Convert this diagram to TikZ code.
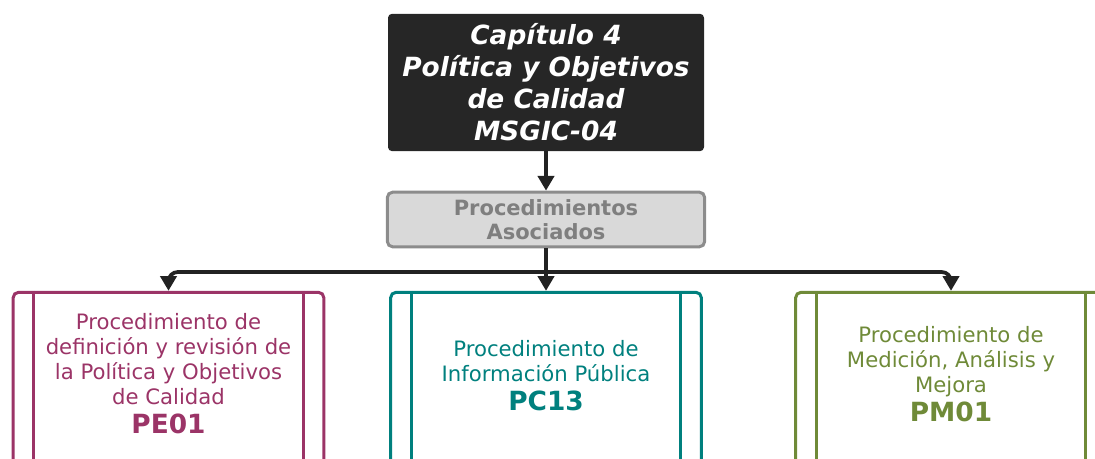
\documentclass[tikz,border=0pt]{standalone}
\usepackage{fontspec}
\setmainfont{DejaVu Sans}
\usetikzlibrary{arrows.meta}
\definecolor{darkbox}{HTML}{262626}
\definecolor{greyfill}{HTML}{D9D9D9}
\definecolor{greyline}{HTML}{8C8C8C}
\definecolor{greytext}{HTML}{7F7F7F}
\definecolor{pemag}{HTML}{9B3467}
\definecolor{pcteal}{HTML}{00807E}
\definecolor{pmolive}{HTML}{6F8A38}
\definecolor{connector}{HTML}{222222}
\newcommand\codefontcmd{\fontsize{19.8pt}{21pt}\selectfont\bfseries}
\tikzset{
  titlebox/.style={draw=none, fill=darkbox, rounded corners=3pt, minimum width=237pt, minimum height=103pt,
    text=white, align=center, font=\fontsize{19.8pt}{24pt}\selectfont\bfseries\itshape, inner sep=0pt},
  assocbox/.style={draw=greyline, line width=2.25pt, fill=greyfill, rounded corners=4pt, minimum width=238pt,
    minimum height=41pt, text=greytext, align=center, font=\fontsize{15.75pt}{18pt}\selectfont\bfseries, inner sep=0pt},
  procbox/.style={draw=#1, line width=2.25pt, rounded corners=4pt, minimum width=233pt, minimum height=130pt, inner sep=0pt},
  procline/.style={draw=#1, line width=2.25pt},
  proctext/.style={text=#1, align=center, font=\fontsize{15.9pt}{18.75pt}\selectfont, inner sep=0pt},
  conn/.style={draw=connector, line width=2.8pt},
  connarrow/.style={conn, -{Triangle[width=12pt,length=11pt]}},
}
\begin{document}
\begin{tikzpicture}[x=0.75pt,y=-0.75pt]
\useasboundingbox (0,0) rectangle (1095,459);
\clip (0,0) rectangle (1095,459);
% title and associated
\node[titlebox] (title) at (546,82.5) {Capítulo 4\\Política y Objetivos\\de Calidad\\MSGIC-04};
\node[assocbox] (assoc) at (546,219.5) {Procedimientos\\Asociados};
% process boxes
\node[procbox=pemag] (pe) at (168.5,379) {};
\node[procbox=pcteal] (pc) at (546,379) {};
\node[procbox=pmolive] (pm) at (951,379) {};
\foreach \b/\c in {pe/pemag, pc/pcteal, pm/pmolive}{
  \draw[procline=\c] ([xshift=16.5pt]\b.north west) -- ([xshift=16.5pt]\b.south west);
  \draw[procline=\c] ([xshift=-16.5pt]\b.north east) -- ([xshift=-16.5pt]\b.south east);
}
\node[proctext=pemag] (petext) at (168.5,374) {Procedimiento de\\definición y revisión de\\la Política y Objetivos\\de Calidad\\[3pt]{\codefontcmd PE01}};
\node[proctext=pcteal] (pctext) at (546,376) {Procedimiento de\\Información Pública\\[3pt]{\codefontcmd PC13}};
\node[proctext=pmolive] (pmtext) at (951,374) {Procedimiento de\\Medición, Análisis y\\Mejora\\[3pt]{\codefontcmd PM01}};
% connectors
\coordinate (hub) at (546,272);
\draw[connarrow] (title.south) -- (assoc.north);
\draw[connarrow, rounded corners=7pt] (hub) -| (pe.north);
\draw[connarrow, rounded corners=7pt] (hub) -| (pm.north);
\draw[connarrow] (assoc.south) -- (pc.north);
\end{tikzpicture}
\end{document}
